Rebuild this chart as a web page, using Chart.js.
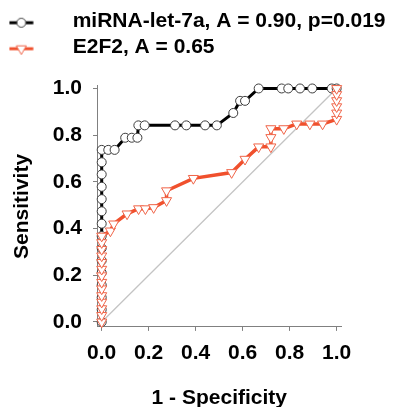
<!DOCTYPE html>
<html>
<head>
<meta charset="utf-8">
<script src="https://cdn.jsdelivr.net/npm/chart.js@4.4.1/dist/chart.umd.min.js"></script>
<style>
  html, body { margin: 0; padding: 0; background: #fff; }
  #wrap { width: 395px; height: 407px; }
</style>
</head>
<body>
<div id="wrap"><canvas id="c" width="395" height="407"></canvas></div>
<script>
// ---- data ----
const seriesNames = ['miRNA-let-7a, A = 0.90, p=0.019', 'E2F2, A = 0.65'];
const let7aX = [0,0,0,0,0,0,0,0,0,0,0,0,0,0,0, 0.028,0.055,0.100,0.128,0.152,0.156,0.183,0.312,0.360,0.440,0.490,0.560,0.589,0.610,0.668,0.766,0.794,0.844,0.896,0.979,1.0];
const let7aY = [0,0.053,0.105,0.158,0.211,0.263,0.316,0.368,0.421,0.474,0.526,0.579,0.632,0.684,0.737, 0.737,0.737,0.789,0.789,0.789,0.842,0.842,0.842,0.842,0.842,0.842,0.895,0.947,0.947,1,1,1,1,1,1,1];
const e2f2X = [0,0,0,0,0,0,0,0,0,0,0,0,0,0, 0.037,0.051,0.108,0.157,0.186,0.221,0.276,0.276,0.390,0.553,0.610,0.668,0.720,0.720,0.720,0.775,0.830,0.886,0.940,1,1,1,1,1,1];
const e2f2Y = [0,0.028,0.057,0.085,0.113,0.142,0.170,0.198,0.226,0.255,0.283,0.311,0.340,0.368, 0.390,0.420,0.463,0.485,0.485,0.490,0.520,0.562,0.615,0.640,0.697,0.750,0.750,0.790,0.828,0.828,0.848,0.848,0.848,0.868,0.895,0.922,0.948,0.974,1.0];
const refX = [0, 1];
const refY = [0, 1];
const tickValues = [0, 0.2, 0.4, 0.6, 0.8, 1.0];
const xTitle = '1 - Specificity';
const yTitle = 'Sensitivity';

// ---- styles ----
const FONT = '"Liberation Sans", Arial, Helvetica, sans-serif';
const BLACK = '#000000';
const CIRCLE_EDGE = '#3c3c3c';
const RED = '#f0502d';
const RED_EDGE = '#f06448';
const AXIS = '#808080';

function pts(xs, ys) { return xs.map((x, i) => ({x: x, y: ys[i]})); }

function sample(kind) {
  const c = document.createElement('canvas');
  c.width = 50; c.height = 16;
  const g = c.getContext('2d');
  const cx = 12.7, cy = 9;
  g.lineWidth = 3;
  g.strokeStyle = kind === 0 ? BLACK : RED;
  g.beginPath(); g.moveTo(0.7, cy); g.lineTo(24.7, cy); g.stroke();
  g.lineWidth = 1;
  g.fillStyle = '#fff';
  g.beginPath();
  if (kind === 0) {
    g.strokeStyle = CIRCLE_EDGE;
    g.arc(cx, cy, 4.5, 0, Math.PI * 2);
  } else {
    g.strokeStyle = RED_EDGE;
    const r = 5.8;
    for (let k = 0; k < 3; k++) {
      const a = Math.PI + k * 2 * Math.PI / 3;
      const px = cx + Math.sin(a) * r, py = cy - Math.cos(a) * r;
      if (k === 0) g.moveTo(px, py); else g.lineTo(px, py);
    }
    g.closePath();
  }
  g.fill(); g.stroke();
  return c;
}
const samples = [sample(0), sample(1)];

Chart.defaults.font.family = FONT;
Chart.defaults.font.weight = 'bold';
Chart.defaults.font.size = 21;
Chart.defaults.color = '#000';

const setTicks = (axis) => { axis.ticks = tickValues.map(v => ({value: v})); };

new Chart(document.getElementById('c'), {
  type: 'scatter',
  data: {
    datasets: [
      {
        label: seriesNames[0],
        data: pts(let7aX, let7aY),
        showLine: true,
        borderColor: BLACK,
        borderWidth: 3,
        pointStyle: 'circle',
        pointRadius: 4.5,
        pointBorderWidth: 1,
        pointBorderColor: CIRCLE_EDGE,
        pointBackgroundColor: '#fff',
        clip: false,
        order: 2
      },
      {
        label: seriesNames[1],
        data: pts(e2f2X, e2f2Y),
        showLine: true,
        borderColor: RED,
        borderWidth: 3.5,
        pointStyle: 'triangle',
        pointRotation: 180,
        pointRadius: 5.8,
        pointBorderWidth: 1,
        pointBorderColor: RED_EDGE,
        pointBackgroundColor: '#fff',
        clip: false,
        order: 1
      },
      {
        label: 'ref',
        data: pts(refX, refY),
        showLine: true,
        borderColor: '#c4c4c4',
        borderWidth: 1.3,
        pointRadius: 0,
        clip: false,
        order: 3
      }
    ]
  },
  options: {
    responsive: false,
    animation: false,
    events: [],
    layout: { padding: { left: 0, right: 0, top: 6.2, bottom: 0 } },
    plugins: {
      tooltip: { enabled: false },
      legend: {
        display: true,
        position: 'top',
        align: 'start',
        labels: {
          usePointStyle: true,
          pointStyleWidth: 57.2,
          padding: 5,
          color: '#000',
          font: { size: 21, weight: 'bold', family: FONT },
          generateLabels: (chart) => {
            const items = Chart.defaults.plugins.legend.labels.generateLabels(chart);
            return items.filter(i => i.datasetIndex < 2)
              .sort((a, b) => a.datasetIndex - b.datasetIndex)
              .map(i => Object.assign({}, i, { pointStyle: samples[i.datasetIndex], rotation: 0, fontColor: '#000' }));
          }
        }
      }
    },
    scales: {
      x: {
        type: 'linear',
        position: 'bottom',
        min: -0.02, max: 1.021,
        afterBuildTicks: setTicks,
        afterFit: (s) => { s.height = 80.1; },
        grid: { display: true, drawOnChartArea: false, drawTicks: true, tickLength: 4, color: AXIS, lineWidth: 1 },
        border: { display: true, color: AXIS, width: 1 },
        ticks: { padding: 10, color: '#000', font: { size: 21, weight: 'bold' }, maxRotation: 0, callback: (v) => Number(v).toFixed(1) },
        title: { display: true, text: xTitle, color: '#000', font: { size: 21, weight: 'bold', lineHeight: 0.82 }, padding: 0 }
      },
      xTop: {
        type: 'linear',
        position: 'top',
        display: true,
        afterFit: (s) => { s.height = 17.7; },
        grid: { display: false },
        border: { display: false },
        ticks: { display: false }
      },
      y: {
        type: 'linear',
        position: 'left',
        min: -0.021, max: 1.011,
        afterBuildTicks: setTicks,
        afterFit: (s) => { s.width = 97; },
        grid: { display: true, drawOnChartArea: false, drawTicks: true, tickLength: 4, color: AXIS, lineWidth: 1 },
        border: { display: true, color: AXIS, width: 1 },
        ticks: { padding: 11, color: '#000', font: { size: 21, weight: 'bold' }, callback: (v) => Number(v).toFixed(1) },
        title: { display: true, text: yTitle, color: '#000', font: { size: 21, weight: 'bold' }, padding: { top: 10.1, bottom: 0 } }
      },
      yRight: {
        type: 'linear',
        position: 'right',
        display: true,
        afterFit: (s) => { s.width = 53.4; },
        grid: { display: false },
        border: { display: false },
        ticks: { display: false }
      }
    }
  }
});
</script>
</body>
</html>
